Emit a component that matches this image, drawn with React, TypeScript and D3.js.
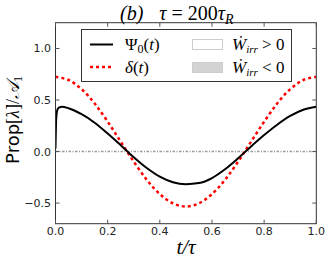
import React from "react";
import * as d3 from "d3";

const psiT = [0, 0.003, 0.008, 0.015, 0.025, 0.05, 0.1, 0.15, 0.2, 0.25, 0.3, 0.35, 0.4, 0.45, 0.5, 0.55, 0.6, 0.65, 0.7, 0.75, 0.8, 0.85, 0.9, 0.95, 1.0];
const psiValues = [0.03, 0.33, 0.41, 0.428, 0.435, 0.42, 0.362, 0.28, 0.175, 0.062, -0.055, -0.16, -0.244, -0.298, -0.317, -0.306, -0.257, -0.172, -0.066, 0.05, 0.16, 0.26, 0.345, 0.405, 0.435];
const deltaT = [0, 0.05, 0.1, 0.15, 0.2, 0.25, 0.3, 0.35, 0.4, 0.45, 0.5, 0.55, 0.6, 0.65, 0.7, 0.75, 0.8, 0.85, 0.9, 0.95, 1.0];
const deltaValues = [0.725, 0.694, 0.605, 0.466, 0.29, 0.096, -0.098, -0.274, -0.413, -0.502, -0.533, -0.502, -0.413, -0.274, -0.098, 0.096, 0.29, 0.466, 0.605, 0.694, 0.725];
const xTicks = [0, 0.2, 0.4, 0.6, 0.8, 1.0];
const yTicks = [-0.5, 0, 0.5, 1.0];
const legendPatches = [" > 0", " < 0"];

const W = 329, H = 262;
const L = 55.5, R = 316.3, T = 22.7, B = 223.7;

export default function App() {
  const x = d3.scaleLinear().domain([0, 1]).range([L, R]);
  const y = d3.scaleLinear().domain([-0.7, 1.25]).range([B, T]);
  const psiLine = d3.line<number>().x((_, i) => x(psiT[i])).y((d) => y(d)).curve(d3.curveMonotoneX);
  const deltaLine = d3.line<number>().x((_, i) => x(deltaT[i])).y((d) => y(d)).curve(d3.curveCatmullRom);
  const fmt = (v: number) => (v < 0 ? "\u2212" : "") + Math.abs(v).toFixed(1);
  const serif = "'Liberation Serif', 'DejaVu Serif', serif";
  const sans = "'DejaVu Sans', sans-serif";
  const tickCol = "#222";
  return (
    <div style={{ position: "absolute", left: 0, top: 0 }}>
      <svg width={W} height={H} style={{ display: "block", background: "#fff" }}>
        <defs>
          <clipPath id="plotclip">
            <rect x={L} y={T} width={R - L} height={B - T} />
          </clipPath>
        </defs>
        <line x1={L} x2={R} y1={y(0)} y2={y(0)} stroke="#999" strokeWidth={1.5} strokeDasharray="2.5,1.5,1,1.5" />
        <g clipPath="url(#plotclip)">
          <path d={deltaLine(deltaValues) || ""} fill="none" stroke="#ff0000" strokeWidth={2.5} strokeDasharray="3,3" />
          <path d={psiLine(psiValues) || ""} fill="none" stroke="#000" strokeWidth={2} />
        </g>
        <rect x={L} y={T} width={R - L} height={B - T} fill="none" stroke="#333" strokeWidth={1} />
        {xTicks.map((t) => (
          <g key={"x" + t}>
            <line x1={x(t)} x2={x(t)} y1={B} y2={B - 4} stroke="#555" />
            <line x1={x(t)} x2={x(t)} y1={T} y2={T + 4} stroke="#555" />
            <text x={x(t)} y={235} textAnchor="middle" fontFamily={sans} fontSize={11} fill={tickCol}>{t.toFixed(1)}</text>
          </g>
        ))}
        {yTicks.map((t) => (
          <g key={"y" + t}>
            <line x1={L} x2={L + 4} y1={y(t)} y2={y(t)} stroke="#555" />
            <line x1={R} x2={R - 4} y1={y(t)} y2={y(t)} stroke="#555" />
            <text x={51} y={y(t) + 4} textAnchor="end" fontFamily={sans} fontSize={11} fill={tickCol}>{fmt(t)}</text>
          </g>
        ))}
        <text x={120} y={19.5} fontFamily={serif} fontSize={20}>
          <tspan fontStyle="italic">(b)</tspan>
          <tspan dx={16} fontStyle="italic">τ</tspan>
          <tspan> = 200</tspan>
          <tspan fontStyle="italic">τ</tspan>
          <tspan fontStyle="italic" fontSize={14} dy={4}>R</tspan>
        </text>
        <text x={186} y={254} textAnchor="middle" fontFamily={serif} fontSize={21} fontStyle="italic">t/τ</text>
        <text transform={`translate(19,120) rotate(-90)`} textAnchor="middle" fontSize={18}>
          <tspan fontFamily={sans}>Prop</tspan>
          <tspan fontFamily={serif}>[</tspan>
          <tspan fontFamily={serif} fontStyle="italic">λ̇</tspan>
          <tspan fontFamily={serif}>]/</tspan>
          <tspan fontFamily={serif} fontStyle="italic">𝒜</tspan>
          <tspan fontFamily={serif} fontSize={12} dy={3}>1</tspan>
        </text>
        <rect x={81.5} y={29.5} width={210} height={52} fill="#fff" stroke="#333" strokeWidth={1} />
        <line x1={90} x2={113} y1={44.5} y2={44.5} stroke="#000" strokeWidth={2} />
        <line x1={90} x2={113} y1={67} y2={67} stroke="#ff0000" strokeWidth={2.5} strokeDasharray="3,3" />
        <text x={125} y={50} fontFamily={serif} fontSize={17}>
          <tspan>Ψ</tspan>
          <tspan fontSize={12} dy={3}>0</tspan>
          <tspan dy={-3}>(</tspan>
          <tspan fontStyle="italic">t</tspan>
          <tspan>)</tspan>
        </text>
        <text x={125} y={72.5} fontFamily={serif} fontSize={17}>
          <tspan fontStyle="italic">δ</tspan>
          <tspan>(</tspan>
          <tspan fontStyle="italic">t</tspan>
          <tspan>)</tspan>
        </text>
        <rect x={192.5} y={39.5} width={30} height={10} fill="#fff" stroke="#ccc" strokeWidth={1} />
        <rect x={192.5} y={62.5} width={30} height={10} fill="#d3d3d3" stroke="#ccc" strokeWidth={1} />
        {legendPatches.map((s, i) => (
          <text key={s} x={232} y={50 + i * 22.5} fontFamily={serif} fontSize={17}>
            <tspan fontStyle="italic">Ẇ</tspan>
            <tspan fontStyle="italic" fontSize={11} dy={3}>irr</tspan>
            <tspan dy={-3}>{s}</tspan>
          </text>
        ))}
      </svg>
    </div>
  );
}
